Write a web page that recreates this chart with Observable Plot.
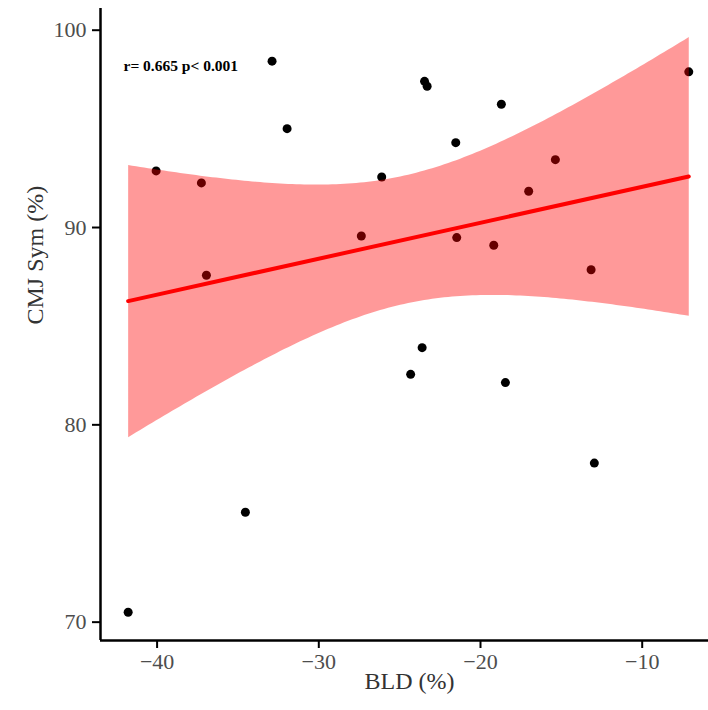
<!DOCTYPE html>
<html>
<head>
<meta charset="utf-8">
<script src="https://cdn.jsdelivr.net/npm/d3@7"></script>
<script src="https://cdn.jsdelivr.net/npm/@observablehq/plot@0.6"></script>
<style>
  html, body { margin: 0; padding: 0; background: #fff; }
</style>
</head>
<body>
<div id="chart"></div>
<script>
// BLD (%) values
const bld = [-32.89, -31.96, -40.06, -37.26, -36.95, -27.37, -23.46, -23.30, -18.71, -21.53, -26.11, -15.37,
             -17.02, -7.12, -21.47, -19.18, -13.16, -34.54, -41.79, -23.61, -24.32, -18.46, -12.96];
// CMJ Sym (%) values
const cmj = [98.43, 95.01, 92.87, 92.26, 87.58, 89.57, 97.41, 97.16, 96.25, 94.30, 92.56, 93.44,
             91.84, 97.89, 89.49, 89.10, 87.86, 75.57, 70.50, 83.91, 82.56, 82.14, 78.06];
const xTicks = [-40, -30, -20, -10];
const yTicks = [70, 80, 90, 100];
const xDomain = [-43.5, -5.9];
const yDomain = [69.07, 101.1];
const annotation = ["r= 0.665 p< 0.001"];
const xTitle = ["BLD (%)"];
const yTitle = ["CMJ Sym (%)"];

const data = bld.map((x, i) => ({x, y: cmj[i]}));
const serif = "'Liberation Serif', 'Times New Roman', serif";

const chart = Plot.plot({
  width: 708,
  height: 710,
  marginLeft: 100,
  marginRight: 0,
  marginTop: 8,
  marginBottom: 70,
  style: {fontFamily: serif, background: "#fff"},
  x: {domain: xDomain},
  y: {domain: yDomain},
  marks: [
    Plot.dot(data, {x: "x", y: "y", r: 4.5, fill: "black", stroke: "none"}),
    Plot.linearRegressionY(data, {x: "x", y: "y", stroke: "red", fill: "red", fillOpacity: 0.4, strokeWidth: 4, ci: 0.95}),
    Plot.ruleX([xDomain[0]], {stroke: "black", strokeWidth: 2.5}),
    Plot.ruleY([yDomain[0]], {stroke: "black", strokeWidth: 2.5}),
    Plot.axisX({ticks: xTicks, tickSize: 8, tickPadding: 5, stroke: "black", strokeWidth: 2, fill: "#4d4d4d", fontSize: 22, label: null}),
    Plot.axisY({ticks: yTicks, tickSize: 8, tickPadding: 6, stroke: "black", strokeWidth: 2, fill: "#4d4d4d", fontSize: 22, label: null}),
    Plot.text(xTitle, {frameAnchor: "bottom", dy: 41, dx: 5, lineAnchor: "middle", fontSize: 24, fill: "#333"}),
    Plot.text(yTitle, {frameAnchor: "left", dx: -65, rotate: -90, lineAnchor: "middle", fontSize: 24, fill: "#333"}),
    Plot.text(annotation, {frameAnchor: "top-left", dx: 23, dy: 58, textAnchor: "start", lineAnchor: "middle", fontSize: 15.5, fontWeight: "bold", fill: "black"})
  ]
});
document.getElementById("chart").appendChild(chart);
</script>
</body>
</html>
